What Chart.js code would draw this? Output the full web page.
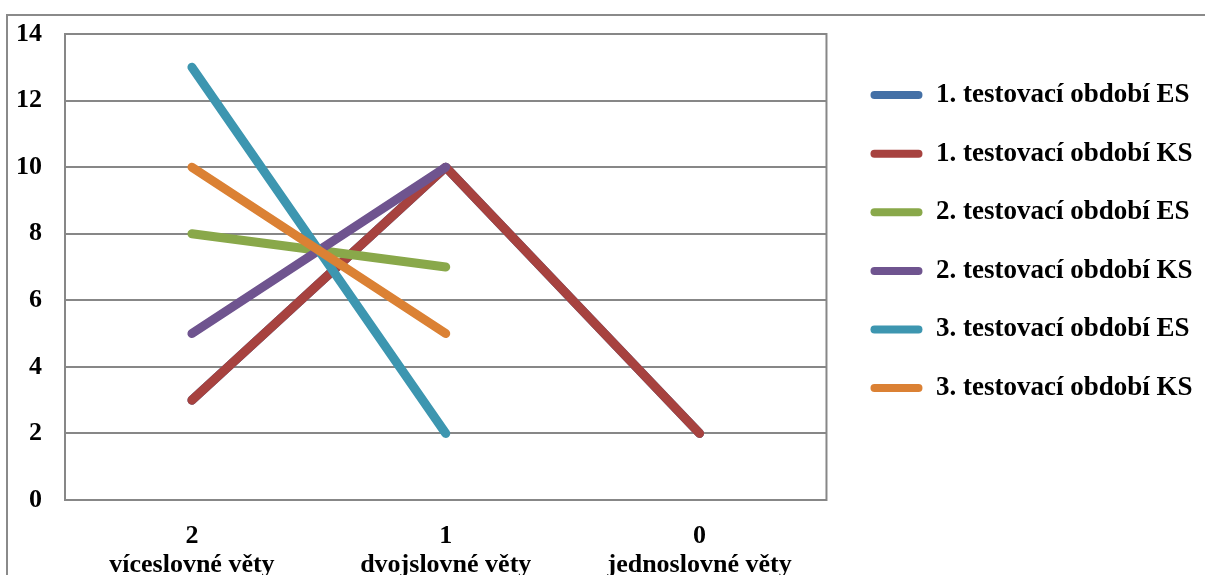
<!DOCTYPE html>
<html>
<head>
<meta charset="utf-8">
<script src="https://cdn.jsdelivr.net/npm/chart.js@4"></script>
<style>
  html, body { margin: 0; padding: 0; background: #fff; overflow: hidden; }
  #wrap { position: relative; width: 1205px; height: 575px; }
  #frame { position: absolute; left: 6px; top: 14px; width: 1300px; height: 700px;
           border: 2px solid #8a8a8a; pointer-events: none; }
  #chart { position: absolute; left: 0; top: 0; }
</style>
</head>
<body>
<div id="wrap">
  <canvas id="chart" width="1205" height="575"></canvas>
  <div id="frame"></div>
</div>
<script>
const categories = [
  ["2", "víceslovné věty"],
  ["1", "dvojslovné věty"],
  ["0", "jednoslovné věty"]
];
const seriesNames = [
  "1. testovací období ES",
  "1. testovací období KS",
  "2. testovací období ES",
  "2. testovací období KS",
  "3. testovací období ES",
  "3. testovací období KS"
];
const es1 = [3, 10, 2];
const ks1 = [3, 10, 2];
const es2 = [8, 7, null];
const ks2 = [5, 10, null];
const es3 = [13, 2, null];
const ks3 = [10, 5, null];
const yTicks = [0, 2, 4, 6, 8, 10, 12, 14];

const colors = ["#4470a6", "#a7423f", "#89a84a", "#6f548f", "#3d96b0", "#db8134"];
const allSeries = [es1, ks1, es2, ks2, es3, ks3];

const serif = "'Liberation Serif', 'Times New Roman', serif";
const fontBold = { family: serif, size: 26, weight: "bold" };
const legendFont = { family: serif, size: 27, weight: "bold" };
const gridGray = "#878787";

// plot area frame (right edge mostly)
const frameArea = {
  id: "frameArea",
  beforeDatasetsDraw(chart) {
    const a = chart.chartArea;
    const ctx = chart.ctx;
    ctx.save();
    ctx.strokeStyle = gridGray;
    ctx.lineWidth = 2;
    ctx.strokeRect(a.left, a.top, a.right - a.left, a.bottom - a.top);
    ctx.restore();
  }
};

const datasets = allSeries.map((d, i) => ({
  label: seriesNames[i],
  data: d,
  borderColor: colors[i],
  backgroundColor: colors[i],
  borderWidth: 9,
  borderCapStyle: "round",
  borderJoinStyle: "round",
  pointRadius: 0,
  tension: 0,
  spanGaps: false,
  order: allSeries.length - i
}));

new Chart(document.getElementById("chart").getContext("2d"), {
  type: "line",
  data: { labels: categories, datasets: datasets },
  options: {
    responsive: false,
    devicePixelRatio: 1,
    animation: false,
    layout: { padding: { top: 34, left: 0, right: 2.5, bottom: 0 } },
    plugins: {
      tooltip: { enabled: false },
      legend: {
        position: "right",
        align: "start",
        maxWidth: 420,
        title: { display: true, text: "", font: { size: 1 }, padding: { top: 7.4, bottom: 7.4 } },
        labels: {
          font: legendFont,
          color: "#000",
          boxWidth: 52,
          boxHeight: 8,
          padding: 31.6,
          useBorderRadius: true,
          borderRadius: 4,
          generateLabels(chart) {
            return chart.data.datasets.map((ds, i) => ({
              text: ds.label,
              fillStyle: ds.borderColor,
              strokeStyle: ds.borderColor,
              lineWidth: 0,
              borderRadius: 4,
              hidden: false,
              datasetIndex: i,
              fontColor: "#000"
            }));
          }
        }
      }
    },
    scales: {
      x: {
        offset: true,
        grid: { display: false, drawTicks: false },
        border: { display: true, color: gridGray, width: 2 },
        ticks: { font: Object.assign({}, fontBold, { lineHeight: 1.1 }), color: "#000", padding: 22, maxRotation: 0 },
        afterFit(s) { s.height = 75; }
      },
      y: {
        min: 0,
        max: 14,
        afterBuildTicks(s) { s.ticks = yTicks.map(v => ({ value: v })); },
        grid: { color: gridGray, lineWidth: 2, drawTicks: false },
        border: { display: true, color: gridGray, width: 2 },
        ticks: { font: fontBold, color: "#000", padding: 23 },
        afterFit(s) { s.width = 65; s.paddingTop = 0; s.paddingBottom = 0; }
      },
      y2: {
        position: "right",
        grid: { display: false, drawTicks: false },
        border: { display: false },
        ticks: { display: false },
        afterFit(s) { s.width = 12.4; }
      }
    }
  },
  plugins: [frameArea]
});
</script>
</body>
</html>
